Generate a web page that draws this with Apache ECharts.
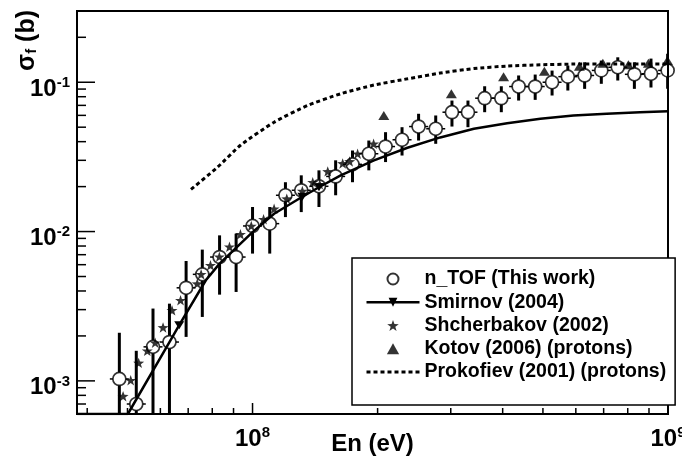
<!DOCTYPE html>
<html><head><meta charset="utf-8">
<script src="https://cdn.jsdelivr.net/npm/echarts@6/dist/echarts.min.js"></script>
<style>html,body{margin:0;padding:0;background:#fff}#c{width:682px;height:461px}</style>
</head><body><div id="c"></div>
<script>
// ---- axis ticks ----
const xMajorTicks = [1e8, 1e9];
const xMinorTicks = [4e7,5e7,6e7,7e7,8e7,9e7,2e8,3e8,4e8,5e8,6e8,7e8,8e8,9e8];
const yMajorTicks = [1e-3, 1e-2, 1e-1];
const yMinorTicks = [7e-4,8e-4,9e-4,2e-3,3e-3,4e-3,5e-3,6e-3,7e-3,8e-3,9e-3,2e-2,3e-2,4e-2,5e-2,6e-2,7e-2,8e-2,9e-2,0.2];

// ---- n_TOF (This work) ----
const ntofE = [4.78e7,5.25e7,5.76e7,6.31e7,6.92e7,7.57e7,8.33e7,9.13e7,1.0e8,1.10e8,1.20e8,1.31e8,1.445e8,1.585e8,1.74e8,1.905e8,2.09e8,2.29e8,2.51e8,2.76e8,3.02e8,3.30e8,3.62e8,3.97e8,4.37e8,4.79e8,5.26e8,5.74e8,6.30e8,6.91e8,7.57e8,8.30e8,9.10e8,9.98e8];
const ntofSigma = [1.03e-3,7.0e-4,1.69e-3,1.82e-3,4.2e-3,5.17e-3,6.75e-3,6.75e-3,1.09e-2,1.13e-2,1.75e-2,1.89e-2,2.01e-2,2.34e-2,2.82e-2,3.32e-2,3.71e-2,4.12e-2,5.05e-2,4.88e-2,6.30e-2,6.30e-2,7.82e-2,7.82e-2,9.36e-2,9.36e-2,0.100,0.109,0.111,0.120,0.126,0.113,0.114,0.120];
const ntofLow = [1e-4,1e-4,1e-4,1e-4,1.97e-3,2.68e-3,3.78e-3,3.94e-3,7.12e-3,7.12e-3,1.25e-2,1.35e-2,1.46e-2,1.75e-2,2.14e-2,2.57e-2,2.92e-2,3.23e-2,4.07e-2,3.87e-2,5.05e-2,5.0e-2,6.30e-2,6.30e-2,7.54e-2,7.62e-2,8.15e-2,8.80e-2,9.03e-2,9.76e-2,0.1027,9.03e-2,9.22e-2,9.03e-2];
const ntofHigh = [2.10e-3,1.59e-3,3.05e-3,3.29e-3,6.35e-3,7.57e-3,9.43e-3,9.68e-3,1.46e-2,1.46e-2,2.14e-2,2.38e-2,2.57e-2,3.0e-2,3.49e-2,4.07e-2,4.63e-2,5.0e-2,6.15e-2,5.99e-2,7.54e-2,7.54e-2,9.4e-2,9.4e-2,0.111,0.1126,0.1197,0.1293,0.1361,0.1397,0.1469,0.1361,0.144,0.155];

// ---- Smirnov (2004) ----
const smirnovE = [3.78e7,5.01e7,6.31e7,6.66e7,7.72e7,8.33e7,1.0e8,1.127e8,1.318e8,1.445e8,1.63e8,1.96e8,2.36e8,2.83e8,3.41e8,4.10e8,4.93e8,5.92e8,7.12e8,8.56e8,1e9];
const smirnovSigma = [6e-4,6e-4,1.82e-3,2.36e-3,4.72e-3,6.10e-3,9.92e-3,1.317e-2,1.71e-2,1.98e-2,2.376e-2,2.995e-2,3.64e-2,4.27e-2,4.88e-2,5.32e-2,5.69e-2,5.99e-2,6.15e-2,6.30e-2,6.40e-2];
const smirnovMarkerE = [6.66e7,1.318e8,1.445e8];

// ---- Shcherbakov (2002) ----
const shchE = [4.88e7,5.09e7,5.32e7,5.58e7,5.83e7,6.09e7,6.40e7,6.71e7,7.36e7,7.52e7,7.92e7,8.32e7,8.80e7,9.35e7,9.93e7,1.063e8,1.127e8,1.209e8,1.318e8,1.396e8,1.451e8,1.517e8,1.648e8,1.713e8,1.790e8,1.956e8];
const shchSigma = [7.90e-4,1.01e-3,1.32e-3,1.59e-3,1.80e-3,2.28e-3,2.97e-3,3.47e-3,4.48e-3,5.17e-3,5.94e-3,6.78e-3,7.90e-3,9.58e-3,1.09e-2,1.21e-2,1.42e-2,1.66e-2,1.87e-2,2.14e-2,2.07e-2,2.53e-2,2.86e-2,2.95e-2,3.32e-2,3.87e-2];

// ---- Kotov (2006) (protons) ----
const kotovE = [2.07e8,3.01e8,4.02e8,5.04e8,6.12e8,6.97e8,8.03e8,8.97e8,9.97e8];
const kotovSigma = [5.99e-2,8.37e-2,0.109,0.1185,0.128,0.134,0.131,0.134,0.140];

// ---- Prokofiev (2001) (protons) ----
const prokE = [7.11e7,8.24e7,9.37e7,1.127e8,1.355e8,1.63e8,1.96e8,2.36e8,2.83e8,3.41e8,4.10e8,4.93e8,5.92e8,7.12e8,8.56e8,1e9];
const prokSigma = [1.915e-2,2.70e-2,3.80e-2,5.40e-2,6.98e-2,8.37e-2,9.58e-2,0.1054,0.1152,0.1235,0.1284,0.1309,0.1323,0.1326,0.1326,0.1323];

const seriesNames = ['n_TOF (This work)','Smirnov (2004)','Shcherbakov (2002)','Kotov (2006) (protons)','Prokofiev (2001) (protons)'];

const X_MIN = 3.78e7, X_MAX = 1e9, Y_MIN = 6e-4, Y_MAX = 0.3;
const FONT = "'Liberation Sans', Arial, Helvetica, sans-serif";
const STAR = 'path://M50,0L61.76,33.82L97.55,34.55L69.02,56.18L79.39,90.45L50,70L20.61,90.45L30.98,56.18L2.45,34.55L38.24,33.82Z';
const UP_TRI = 'path://M5,0L10,9L0,9Z';
const DOWN_TRI = 'path://M0,0L10,0L5,9Z';
const R = 6.5;

const zip = (a, b) => a.map((v, i) => [v, b[i]]);
const powLabel = v => '{b|10}{s|' + Math.round(Math.log10(v)) + '}';
const labelRich = {
  b: {fontFamily: FONT, fontWeight: 'bold', fontSize: 24, color: '#000', lineHeight: 26, verticalAlign: 'bottom'},
  s: {fontFamily: FONT, fontWeight: 'bold', fontSize: 15, color: '#000', lineHeight: 26, verticalAlign: 'top'}
};

// rows: [x, lo, hi, y, kind, tickLength]; kind 0 = error bar, 1 = x-axis tick, 2 = y-axis tick
const EPS = 1.00001;
const inX = v => Math.min(Math.max(v, X_MIN * EPS), X_MAX / EPS);
const inY = v => Math.min(Math.max(v, Y_MIN * EPS), Y_MAX / EPS);
const rows = ntofE.map((e, i) => [e, ntofLow[i], ntofHigh[i], ntofSigma[i], 0, 0])
  .concat(xMajorTicks.map(v => [inX(v), 0.01, 0.01, 0.01, 1, 11]))
  .concat(xMinorTicks.map(v => [inX(v), 0.01, 0.01, 0.01, 1, 6]))
  .concat(yMajorTicks.map(v => [1e8, 0.01, 0.01, inY(v), 2, 18]))
  .concat(yMinorTicks.map(v => [1e8, 0.01, 0.01, inY(v), 2, 9]));

const xBase = {type: 'log', logBase: 10, min: X_MIN, max: X_MAX, position: 'bottom',
  axisLine: {show: false}, axisTick: {show: false}, splitLine: {show: false}, minorTick: {show: false}};
const yBase = {type: 'log', logBase: 10, min: Y_MIN, max: Y_MAX, position: 'left',
  axisLine: {show: false}, axisTick: {show: false}, splitLine: {show: false}, minorTick: {show: false}};

const chart = echarts.init(document.getElementById('c'), null, {renderer: 'canvas'});
chart.setOption({
  backgroundColor: '#fff',
  animation: false,
  color: ['#000'],
  grid: {left: 77, right: 14, top: 11, bottom: 47, show: true, borderColor: '#000', borderWidth: 2,
    backgroundColor: 'rgba(0,0,0,0)', containLabel: false, outerBoundsMode: 'none'},
  xAxis: Object.assign({}, xBase, {
    name: 'En (eV)', nameLocation: 'middle', nameGap: 18, nameMoveOverlap: false,
    nameTextStyle: {fontFamily: FONT, fontWeight: 'bold', fontSize: 24, color: '#000', verticalAlign: 'top'},
    axisLabel: {show: true, customValues: xMajorTicks, margin: 11, formatter: powLabel, rich: labelRich}
  }),
  yAxis: Object.assign({}, yBase, {
    axisLabel: {show: true, customValues: yMajorTicks, margin: 7, padding: [12, 0, 0, 0], formatter: powLabel, rich: labelRich}
  }),
  graphic: [{
    type: 'text', x: 26, y: 10, rotation: Math.PI / 2, z: 100,
    style: {
      text: '{a|σ}{f|f}{a| (b)}', align: 'right', verticalAlign: 'middle',
      rich: {
        a: {fontFamily: FONT, fontWeight: 'bold', fontSize: 25, fill: '#000', lineHeight: 27, verticalAlign: 'bottom'},
        f: {fontFamily: FONT, fontWeight: 'bold', fontSize: 15, fill: '#000', lineHeight: 23, verticalAlign: 'bottom'}
      }
    }
  }],
  legend: {
    orient: 'vertical', left: 352, top: 258,
    padding: [11, 9, 23, 13],
    itemWidth: 53, itemHeight: 11, itemGap: 3.25,
    borderColor: '#000', borderWidth: 1.5, backgroundColor: '#fff',
    selectedMode: false,
    textStyle: {fontFamily: FONT, fontWeight: 'bold', fontSize: 19.5, color: '#000', lineHeight: 18},
    data: [
      {name: seriesNames[0]},
      {name: seriesNames[1], lineStyle: {width: 2.5}},
      {name: seriesNames[2]},
      {name: seriesNames[3]},
      {name: seriesNames[4], lineStyle: {width: 3, type: [4, 3]}, itemStyle: {color: 'rgba(0,0,0,0)', borderColor: 'rgba(0,0,0,0)', borderWidth: 0}}
    ]
  },
  series: [
    {
      type: 'custom', name: 'err', clip: true, z: 2,
      dimensions: ['x', 'lo', 'hi', 'y', 'kind', 'len'],
      encode: {x: 0, y: 3},
      data: rows,
      renderItem: (params, api) => {
        const kind = Number(api.value(4));
        const len = Number(api.value(5));
        if (kind === 1) {
          const p = api.coord([api.value(0), Y_MIN * EPS]);
          return {type: 'group', children: [{type: 'rect', shape: {x: p[0] - 0.75, y: p[1] - len, width: 1.5, height: len}, style: {fill: '#000'}}]};
        }
        if (kind === 2) {
          const p = api.coord([X_MIN * EPS, api.value(3)]);
          return {type: 'group', children: [{type: 'rect', shape: {x: p[0], y: p[1] - 0.75, width: len, height: 1.5}, style: {fill: '#000'}}]};
        }
        const pc = api.coord([api.value(0), api.value(3)]);
        const pl = api.coord([api.value(0), api.value(1)]);
        const ph = api.coord([api.value(0), api.value(2)]);
        const ch = [];
        const st = {stroke: '#000', lineWidth: 3};
        if (ph[1] < pc[1] - R) ch.push({type: 'line', shape: {x1: pc[0], y1: ph[1], x2: pc[0], y2: pc[1] - R}, style: st});
        if (pl[1] > pc[1] + R) ch.push({type: 'line', shape: {x1: pc[0], y1: pc[1] + R, x2: pc[0], y2: pl[1]}, style: st});
        ch.push({type: 'line', shape: {x1: pc[0] - R - 3, y1: pc[1], x2: pc[0] - R, y2: pc[1]}, style: {stroke: '#000', lineWidth: 1.5}});
        ch.push({type: 'line', shape: {x1: pc[0] + R, y1: pc[1], x2: pc[0] + R + 3, y2: pc[1]}, style: {stroke: '#000', lineWidth: 1.5}});
        return {type: 'group', children: ch};
      }
    },
    {
      type: 'scatter', name: seriesNames[0], z: 3,
      symbol: 'circle', symbolSize: 2 * R,
      itemStyle: {color: 'rgba(255,255,255,0)', borderColor: '#000', borderWidth: 1.7},
      data: zip(ntofE, ntofSigma)
    },
    {
      type: 'line', name: seriesNames[1], z: 4,
      symbol: DOWN_TRI, symbolSize: [10, 9], showSymbol: true, symbolKeepAspect: true,
      lineStyle: {color: '#000', width: 2.5}, itemStyle: {color: '#000'},
      data: smirnovE.map((e, i) => ({value: [e, smirnovSigma[i]], symbol: smirnovMarkerE.includes(e) ? DOWN_TRI : 'none'}))
    },
    {
      type: 'scatter', name: seriesNames[2], z: 5,
      symbol: STAR, symbolSize: 11, symbolKeepAspect: true,
      itemStyle: {color: '#000'},
      data: zip(shchE, shchSigma)
    },
    {
      type: 'scatter', name: seriesNames[3], z: 5,
      symbol: UP_TRI, symbolSize: [11, 10], symbolKeepAspect: true,
      itemStyle: {color: '#000'},
      data: zip(kotovE, kotovSigma)
    },
    {
      type: 'line', name: seriesNames[4], z: 4,
      symbol: 'none', smooth: 0.2,
      lineStyle: {color: '#000', width: 3, type: [4, 3]},
      data: zip(prokE, prokSigma)
    }
  ]
});
</script></body></html>
